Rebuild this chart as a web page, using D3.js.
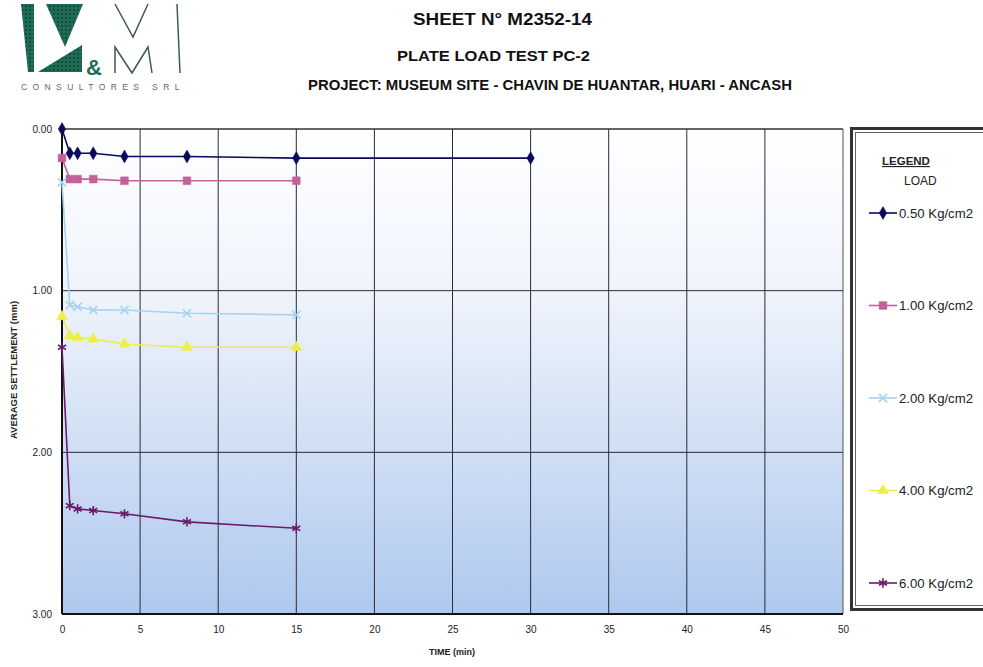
<!DOCTYPE html>
<html>
<head>
<meta charset="utf-8">
<script src="https://cdn.jsdelivr.net/npm/d3@7"></script>
<style>
  body { margin: 0; background: #fff; }
  svg { display: block; font-family: "Liberation Sans", Arial, sans-serif; }
</style>
</head>
<body>
<svg id="chart" width="983" height="667"></svg>
<script>
// time readings (min)
const times = [0, 0.5, 1, 2, 4, 8, 15, 30];
// settlement readings (mm) per load
const load050 = [0, 0.15, 0.15, 0.15, 0.17, 0.17, 0.18, 0.18];
const load100 = [0.18, 0.31, 0.31, 0.31, 0.32, 0.32, 0.32];
const load200 = [0.33, 1.09, 1.10, 1.12, 1.12, 1.14, 1.15];
const load400 = [1.16, 1.28, 1.29, 1.30, 1.33, 1.35, 1.35];
const load600 = [1.35, 2.33, 2.35, 2.36, 2.38, 2.43, 2.47];
const loadNames = ["0.50 Kg/cm2", "1.00 Kg/cm2", "2.00 Kg/cm2", "4.00 Kg/cm2", "6.00 Kg/cm2"];
const xTicks = [0, 5, 10, 15, 20, 25, 30, 35, 40, 45, 50];
const yTicks = [0, 1, 2, 3];

const svg = d3.select("#chart");

const seriesList = [
  { name: loadNames[0], values: load050, color: "#0a0a5c", shape: "diamond" },
  { name: loadNames[1], values: load100, color: "#c4609a", shape: "square" },
  { name: loadNames[2], values: load200, color: "#a6d2ee", shape: "x" },
  { name: loadNames[3], values: load400, color: "#eeee4a", shape: "triangle" },
  { name: loadNames[4], values: load600, color: "#6a1a6a", shape: "star" }
];

const x = d3.scaleLinear().domain([0, 50]).range([62, 843]);
const y = d3.scaleLinear().domain([0, 3]).range([129, 614]);

// ---- header ----
svg.append("text").attr("x", 413).attr("y", 25)
  .attr("font-size", 16.3).attr("font-weight", "bold").attr("fill", "#111")
  .attr("textLength", 179).attr("lengthAdjust", "spacingAndGlyphs")
  .text("SHEET N° M2352-14");
svg.append("text").attr("x", 397).attr("y", 61)
  .attr("font-size", 15.4).attr("font-weight", "bold").attr("fill", "#111")
  .attr("textLength", 193).attr("lengthAdjust", "spacingAndGlyphs")
  .text("PLATE LOAD TEST PC-2");
svg.append("text").attr("x", 308).attr("y", 90)
  .attr("font-size", 15.2).attr("font-weight", "bold").attr("fill", "#111")
  .attr("textLength", 484).attr("lengthAdjust", "spacingAndGlyphs")
  .text("PROJECT: MUSEUM SITE - CHAVIN DE HUANTAR, HUARI - ANCASH");

// ---- logo ----
const defs = svg.append("defs");
const pat = defs.append("pattern").attr("id", "dots").attr("width", 4).attr("height", 4)
  .attr("patternUnits", "userSpaceOnUse");
pat.append("rect").attr("width", 4).attr("height", 4).attr("fill", "#1f6b55");
pat.append("circle").attr("cx", 2).attr("cy", 2).attr("r", 1.1).attr("fill", "#0e4a39");

const logo = svg.append("g");
logo.append("path").attr("fill", "url(#dots)")
  .attr("d", "M21,4 L34,4 L34,72 L28,72 Z");
logo.append("path").attr("fill", "url(#dots)")
  .attr("d", "M46,4 L83,4 L65,47 Z");
logo.append("path").attr("fill", "url(#dots)")
  .attr("d", "M38,72 L82,45 L82,72 Z");
logo.append("text").attr("x", 86).attr("y", 75).attr("font-size", 22)
  .attr("font-weight", "bold").attr("fill", "#1f6b55").text("&");
logo.append("path").attr("fill", "none").attr("stroke", "#3c5a52").attr("stroke-width", 1.5)
  .attr("d", "M115,4 L133,37 L148,4 M177,4 L180,73 M115,73 L115,47 L132,73 L148,47 L152,73");
logo.append("text").attr("x", 21).attr("y", 90).attr("font-size", 8.5)
  .attr("letter-spacing", 5.4).attr("fill", "#666").text("CONSULTORES SRL");

// ---- plot background ----
const grad = defs.append("linearGradient").attr("id", "bg")
  .attr("x1", 0).attr("y1", 0).attr("x2", 0).attr("y2", 1);
grad.append("stop").attr("offset", "0%").attr("stop-color", "#ffffff");
grad.append("stop").attr("offset", "35%").attr("stop-color", "#eef3fb");
grad.append("stop").attr("offset", "100%").attr("stop-color", "#aec8ee");

svg.append("rect").attr("x", x(0)).attr("y", y(0))
  .attr("width", x(50) - x(0)).attr("height", y(3) - y(0))
  .attr("fill", "url(#bg)");

// grid
const grid = svg.append("g");
grid.selectAll("line.v").data(xTicks.slice(1, -1)).enter().append("line")
  .attr("x1", d => x(d)).attr("x2", d => x(d)).attr("y1", y(0)).attr("y2", y(3))
  .attr("stroke", "#2a2a3a").attr("stroke-width", 1);
grid.selectAll("line.h").data(yTicks.slice(1, -1)).enter().append("line")
  .attr("x1", x(0)).attr("x2", x(50)).attr("y1", d => y(d)).attr("y2", d => y(d))
  .attr("stroke", "#2a2a3a").attr("stroke-width", 1);

// frame
svg.append("line").attr("x1", x(50)).attr("x2", x(50)).attr("y1", y(0)).attr("y2", y(3))
  .attr("stroke", "#555").attr("stroke-width", 1);
svg.append("line").attr("x1", x(0)).attr("x2", x(50)).attr("y1", y(0)).attr("y2", y(0))
  .attr("stroke", "#333").attr("stroke-width", 1.5);
svg.append("line").attr("x1", x(0)).attr("x2", x(50)).attr("y1", y(3)).attr("y2", y(3))
  .attr("stroke", "#111").attr("stroke-width", 2);
svg.append("line").attr("x1", x(0)).attr("x2", x(0)).attr("y1", y(0)).attr("y2", y(3))
  .attr("stroke", "#111").attr("stroke-width", 2);

// axes
const xAxis = svg.append("g").attr("transform", `translate(0,${y(3) + 2})`)
  .call(d3.axisBottom(x).tickValues(xTicks).tickSize(0).tickPadding(10).tickFormat(d3.format("d")));
xAxis.select(".domain").remove();
xAxis.selectAll("text").attr("font-size", 10).attr("fill", "#222")
  .attr("font-family", "'Liberation Sans Narrow', 'Liberation Sans', sans-serif");

const yAxis = svg.append("g").attr("transform", `translate(${x(0) - 2},0)`)
  .call(d3.axisLeft(y).tickValues(yTicks).tickSize(0).tickPadding(8).tickFormat(d3.format(".2f")));
yAxis.select(".domain").remove();
yAxis.selectAll("text").attr("font-size", 10).attr("fill", "#222")
  .attr("font-family", "'Liberation Sans Narrow', 'Liberation Sans', sans-serif");

svg.append("text").attr("x", 452).attr("y", 655).attr("text-anchor", "middle")
  .attr("font-size", 9).attr("font-weight", "bold").attr("fill", "#222").text("TIME (min)");
svg.append("text").attr("transform", "translate(17,370) rotate(-90)").attr("text-anchor", "middle")
  .attr("font-size", 9.5).attr("font-weight", "bold").attr("fill", "#222").text("AVERAGE SETTLEMENT (mm)");

// ---- markers ----
function drawMarker(g, s, cx, cy) {
  const sym = {
    diamond: d3.symbol().type(d3.symbolDiamond).size(48),
    square: d3.symbol().type(d3.symbolSquare).size(60),
    triangle: d3.symbol().type(d3.symbolTriangle).size(52),
    x: d3.symbol().type(d3.symbolX || d3.symbolCross).size(45),
    star: d3.symbol().type(d3.symbolAsterisk || d3.symbolCross).size(60)
  }[s.shape];
  const stroked = s.shape === "x" || s.shape === "star";
  g.append("path").attr("d", sym())
    .attr("transform", `translate(${cx},${cy})`)
    .attr("fill", stroked ? "none" : s.color)
    .attr("stroke", s.color).attr("stroke-width", stroked ? 1.6 : 0.5);
}

const line = d3.line().x(d => x(d.t)).y(d => y(d.v));
seriesList.forEach(s => {
  const pts = s.values.map((v, i) => ({ t: times[i], v: v }));
  const g = svg.append("g");
  g.append("path").datum(pts).attr("d", line).attr("fill", "none")
    .attr("stroke", s.color).attr("stroke-width", 1.6);
  pts.forEach(p => drawMarker(g, s, x(p.t), y(p.v)));
});

// ---- legend ----
svg.append("rect").attr("x", 851.5).attr("y", 128.5).attr("width", 140).attr("height", 481)
  .attr("fill", "#fff").attr("stroke", "#333").attr("stroke-width", 3);
svg.append("rect").attr("x", 855.5).attr("y", 132.5).attr("width", 136).attr("height", 473)
  .attr("fill", "none").attr("stroke", "#666").attr("stroke-width", 1);
svg.append("text").attr("x", 882).attr("y", 165).attr("font-size", 11.5).attr("font-weight", "bold")
  .attr("text-decoration", "underline").attr("fill", "#222").text("LEGEND");
svg.append("text").attr("x", 904).attr("y", 185).attr("font-size", 12)
  .attr("fill", "#222").text("LOAD");

const legY = d3.scalePoint().domain(loadNames).range([213, 583]);
seriesList.forEach(s => {
  const g = svg.append("g");
  const ly = legY(s.name);
  g.append("line").attr("x1", 869).attr("x2", 897).attr("y1", ly).attr("y2", ly)
    .attr("stroke", s.color).attr("stroke-width", 1.6);
  drawMarker(g, s, 883, ly);
  g.append("text").attr("x", 899).attr("y", ly + 4.5).attr("font-size", 13.2)
    .attr("fill", "#222").text(s.name);
});
</script>
</body>
</html>
